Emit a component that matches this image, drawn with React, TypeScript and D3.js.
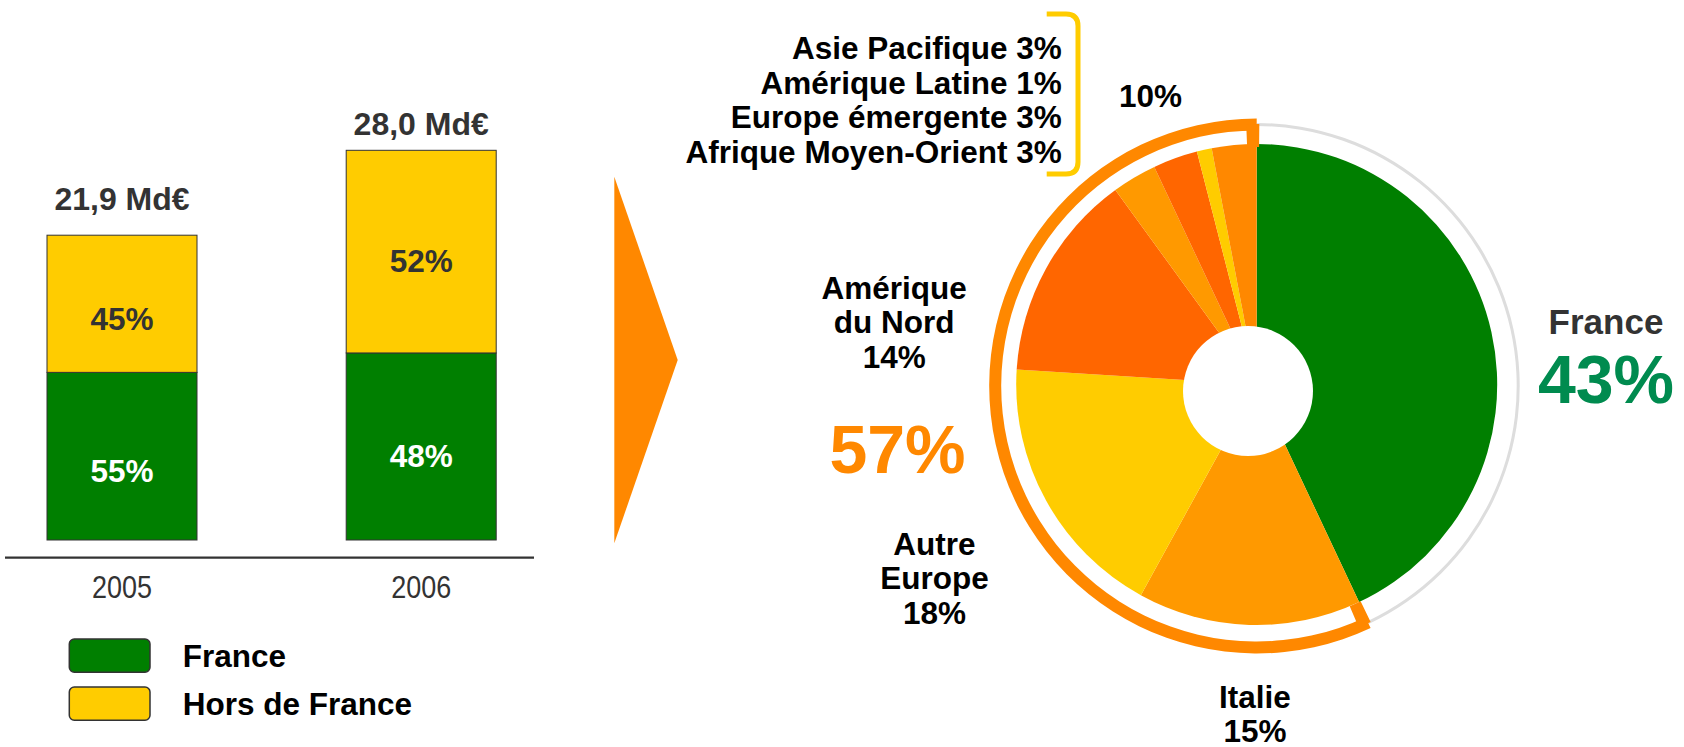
import React from 'react';
import * as d3 from 'd3';

const years = ['2005', '2006'];
const totals = [21.9, 28.0];
const totalLabels = ['21,9 Md€', '28,0 Md€'];
const franceShare = [55, 48];
const horsShare = [45, 52];
const legendLabels = ['France', 'Hors de France'];

const regions = ['France', 'Italie', 'Autre Europe', 'Amérique du Nord', 'Afrique Moyen-Orient', 'Europe émergente', 'Amérique Latine', 'Asie Pacifique'];
const regionShares = [43, 15, 18, 14, 3, 3, 1, 3];
const regionColors = ['#007F00', '#FF9900', '#FFCC00', '#FF6600', '#FF9900', '#FF6600', '#FFCC00', '#FF8800'];
const smallRegions = ['Asie Pacifique 3%', 'Amérique Latine 1%', 'Europe émergente 3%', 'Afrique Moyen-Orient 3%'];

const GREEN = '#007F00';
const YELLOW = '#FFCC00';
const ORANGE = '#FF8800';
const FONT = '"Liberation Sans", Arial, sans-serif';

export default function App() {
  // Bar chart scales
  const y = d3.scaleLinear().domain([0, 28]).range([540, 150.3]);
  const x = d3.scalePoint<string>().domain(years).range([122, 421.2]);
  const barW = 150;

  // Pie
  const cx = 1256.7, cy = 384.5, R = 240.5;
  const ringCy = 386;
  const pie = d3.pie<number>().sort(null).value((d) => d).startAngle(0).endAngle(2 * Math.PI);
  const arcs = pie(regionShares);
  const arcGen = d3.arc<any>().innerRadius(0).outerRadius(R);
  const franceEnd = arcs[0].endAngle;
  const ringArc = d3.arc<any>()({ innerRadius: 255.5, outerRadius: 267.5, startAngle: franceEnd, endAngle: 2 * Math.PI } as any);
  const grayArc = d3.arc<any>()({ innerRadius: 260, outerRadius: 263, startAngle: 0, endAngle: franceEnd } as any);
  const tick1 = d3.arc<any>()({ innerRadius: 239, outerRadius: 262, startAngle: franceEnd - 0.01, endAngle: franceEnd + 0.04 } as any);
  const tick2 = d3.arc<any>()({ innerRadius: 239, outerRadius: 262, startAngle: 2 * Math.PI - 0.04, endAngle: 2 * Math.PI + 0.01 } as any);

  const labelStyle: React.CSSProperties = { fontFamily: FONT, fontWeight: 700, fontSize: 31.5 };

  return (
    <svg width={1684} height={747} style={{ position: 'absolute', left: 0, top: 0, background: '#fff' }}>
      {/* Bars */}
      {years.map((yr, i) => {
        const cxBar = x(yr)!;
        const top = y(totals[i]);
        const split = y(totals[i] * franceShare[i] / 100);
        const base = y(0);
        const labOff = i === 0 ? 26.3 : 20.6;
        return (
          <g key={yr}>
            <rect x={cxBar - barW / 2} y={split} width={barW} height={base - split} fill={GREEN} stroke="#333" strokeWidth={1} />
            <rect x={cxBar - barW / 2} y={top} width={barW} height={split - top} fill={YELLOW} stroke="#333" strokeWidth={1} />
            <text x={cxBar} y={(top + split) / 2 + labOff} textAnchor="middle" fill="#333" style={labelStyle}>{horsShare[i]}%</text>
            <text x={cxBar} y={(split + base) / 2 + labOff} textAnchor="middle" fill="#fff" style={labelStyle}>{franceShare[i]}%</text>
            <text x={cxBar} y={top - (i === 0 ? 25 : 15.3)} textAnchor="middle" fill="#333" style={{ ...labelStyle, fontSize: 32 }}>{totalLabels[i]}</text>
            <text x={cxBar} y={598.3} textAnchor="middle" fill="#333" textLength={60} lengthAdjust="spacingAndGlyphs"
              style={{ fontFamily: FONT, fontSize: 31 }}>{yr}</text>
          </g>
        );
      })}
      <line x1={5} x2={534} y1={557.7} y2={557.7} stroke="#333" strokeWidth={2.2} />

      {/* Legend */}
      {legendLabels.map((l, i) => (
        <g key={l}>
          <rect x={69.3} y={639 + i * 48} width={80.7} height={33.3} rx={5} fill={i === 0 ? GREEN : YELLOW} stroke="#333" strokeWidth={1.5} />
          <text x={182.7} y={667.3 + i * 48} fill="#000" style={labelStyle}>{l}</text>
        </g>
      ))}

      {/* Arrow */}
      <polygon points="614.3,176.7 677.7,360 614.3,543.3" fill={ORANGE} />

      {/* Pie */}
      <g transform={`translate(${cx},${cy})`}>
        {arcs.map((a, i) => (
          <path key={regions[i]} d={arcGen(a)!} fill={regionColors[i]} />
        ))}
      </g>
      <circle cx={1248} cy={391} r={65} fill="#fff" />
      <g transform={`translate(${cx},${ringCy})`}>
        <path d={grayArc!} fill="#DDDDDD" />
        <path d={ringArc!} fill={ORANGE} />
        <path d={tick1!} fill={ORANGE} />
        <path d={tick2!} fill={ORANGE} />
      </g>

      {/* Bracket */}
      <path d="M1046.7,14 H1066 Q1078,14 1078,26 V162 Q1078,174 1066,174 H1046.7" fill="none" stroke={YELLOW} strokeWidth={5} />
      {smallRegions.map((s, i) => (
        <text key={s} x={1061.7} y={59.3 + i * 34.5} textAnchor="end" fill="#000" style={labelStyle}>{s}</text>
      ))}
      <text x={1150.5} y={106.7} textAnchor="middle" fill="#000" style={labelStyle}>10%</text>

      {/* Pie labels */}
      <text textAnchor="middle" fill="#000" style={labelStyle}>
        <tspan x={894.2} y={299}>Amérique</tspan>
        <tspan x={894.2} y={332.5}>du Nord</tspan>
        <tspan x={894.2} y={367.7}>{regionShares[3]}%</tspan>
      </text>
      <text x={897.5} y={472.7} textAnchor="middle" fill={ORANGE} style={{ ...labelStyle, fontSize: 68 }}>57%</text>
      <text textAnchor="middle" fill="#000" style={labelStyle}>
        <tspan x={934.5} y={555}>Autre</tspan>
        <tspan x={934.5} y={589}>Europe</tspan>
        <tspan x={934.5} y={624.3}>{regionShares[2]}%</tspan>
      </text>
      <text textAnchor="middle" fill="#000" style={labelStyle}>
        <tspan x={1255} y={708.3}>Italie</tspan>
        <tspan x={1255} y={742}>{regionShares[1]}%</tspan>
      </text>
      <text x={1606} y={334} textAnchor="middle" fill="#333" style={{ ...labelStyle, fontSize: 35 }}>France</text>
      <text x={1606} y={403.3} textAnchor="middle" fill="#008B4F" style={{ ...labelStyle, fontSize: 68 }}>{regionShares[0]}%</text>
    </svg>
  );
}
